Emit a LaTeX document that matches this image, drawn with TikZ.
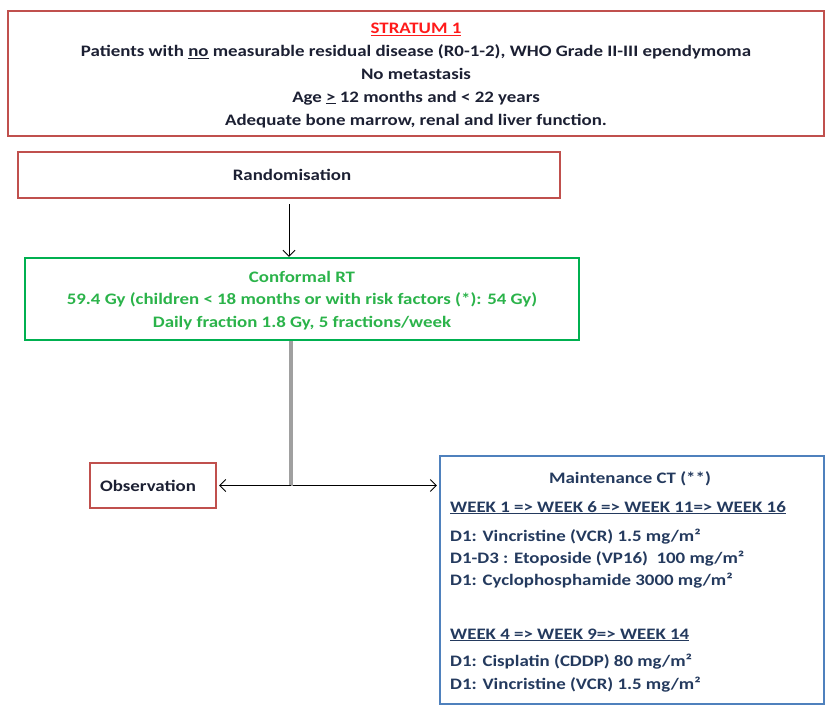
\documentclass[tikz,border=0pt]{standalone}
\usepackage{fontspec}
\setmainfont{Carlito}[FakeStretch=1.18]
\usetikzlibrary{arrows.meta}
\definecolor{boxred}{HTML}{C0504D}
\definecolor{boxgreen}{HTML}{00B050}
\definecolor{boxblue}{HTML}{4F81BD}
\definecolor{inkdark}{HTML}{1C2033}
\definecolor{inkblue}{HTML}{243A5E}
\definecolor{inkgreen}{HTML}{2BB34A}
\definecolor{stratred}{HTML}{FF1A1A}
\definecolor{trunkgray}{HTML}{A0A0A0}
\newcommand{\thickul}[1]{\setbox0\hbox{#1}\leavevmode\rlap{\rule[-2.2pt]{\wd0}{1.1pt}}\box0}
\tikzset{
  every node/.style={font=\bfseries\fontsize{16}{22.8}\selectfont},
  redbox/.style={draw=boxred, line width=2.4pt, inner sep=0pt},
  greenbox/.style={draw=boxgreen, line width=2.4pt, inner sep=0pt},
  bluebox/.style={draw=boxblue, line width=2.2pt, inner sep=0pt},
  arr/.style={draw=black, line width=0.9pt, -{Straight Barb[length=6pt,width=12pt]}},
  trunk/.style={draw=trunkgray, line width=3.5pt},
  ctline/.style={anchor=base west, text=inkblue, inner sep=0pt},
}
\begin{document}
\begin{tikzpicture}[x=1pt,y=-1pt]
\useasboundingbox (0,0) rectangle (830,707);

% eligibility box
\node[redbox, minimum width=816pt, minimum height=125pt] (strat) at (416,73.5) {};
\node[align=center, text=inkdark] (strattext) at (416,75.5)
  {\textcolor{stratred}{\underline{STRATUM 1}}\\
   Patients with \underline{no} measurable residual disease (R0-1-2), WHO Grade II-III ependymoma\\
   No metastasis\\
   Age \underline{>} 12 months and < 22 years\\
   Adequate bone marrow, renal and liver function.};

% randomisation
\node[redbox, minimum width=542pt, minimum height=46pt, text=inkdark] (rand) at (289,175) {\hspace*{6pt}Randomisation};

% radiotherapy
\node[greenbox, minimum width=554pt, minimum height=82pt] (rt) at (302,299) {};
\node[align=center, text=inkgreen] (rttext) at (302,300.5)
  {Conformal RT\\
   59.4 Gy (children < 18 months or with risk factors (*): 54 Gy)\\
   Daily fraction 1.8 Gy, 5 fractions/week};

% observation arm
\node[redbox, minimum width=126pt, minimum height=45pt, text=inkdark] (obs) at (153,485.5) {\hspace*{-10pt}Observation};

% maintenance chemotherapy arm
\node[bluebox, minimum width=384pt, minimum height=248pt] (mct) at (632,580) {};
\node[text=inkblue] (mcttitle) at (630,479) {Maintenance CT (**)};
\node[ctline] (w1) at (450,512) {\thickul{WEEK 1 => WEEK 6 => WEEK 11=> WEEK 16}};
\node[ctline] (d1a) at (450,541) {D1: Vincristine (VCR) 1.5 mg/m²};
\node[ctline] (d1b) at (450,563) {D1-D3 : Etoposide (VP16)\ \ 100 mg/m²};
\node[ctline] (d1c) at (450,585) {D1: Cyclophosphamide 3000 mg/m²};
\node[ctline] (w4) at (450,639) {\thickul{WEEK 4 => WEEK 9=> WEEK 14}};
\node[ctline] (d2a) at (450,666) {D1: Cisplatin (CDDP) 80 mg/m²};
\node[ctline] (d2b) at (450,689) {D1: Vincristine (VCR) 1.5 mg/m²};

% connectors
\coordinate (split) at (291,485.5);
\draw[arr] ([yshift=-5pt]rand.south) -- (rand.south |- rt.north);
\draw[trunk] (rt.south -| split) -- (split);
\draw[arr] (split) -- ([xshift=2pt]split -| obs.east);
\draw[arr] ([xshift=2pt]split) -- ([xshift=-2pt]split -| mct.west);
\end{tikzpicture}
\end{document}
